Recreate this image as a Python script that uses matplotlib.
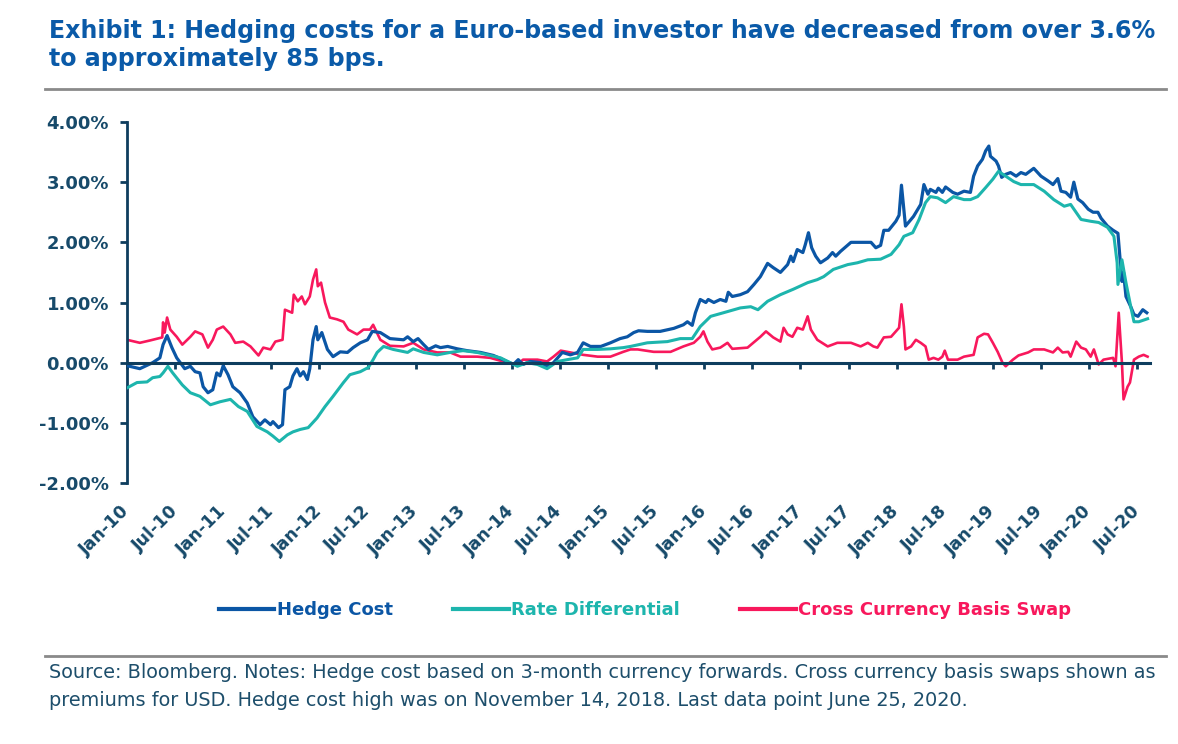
import matplotlib
matplotlib.use('Agg')
import matplotlib.pyplot as plt
from matplotlib.lines import Line2D

plt.rcParams['font.family'] = ['DejaVu Sans']

# ---------------- data (x = months since Jan 2010, y = percent) ----------------
hedge_m = [0, 1.6, 3.2, 4.1, 4.5, 5.0, 5.6, 6.2, 7.2, 7.9, 8.5, 9.1, 9.5, 10.1, 10.7, 11.2, 11.6, 12.0,
           12.6, 13.2, 14.1, 15.0, 15.7, 16.6, 17.2, 17.9, 18.2, 18.9, 19.4, 19.7, 20.3, 20.7, 21.2,
           21.6, 22.0, 22.5, 22.8, 23.2, 23.6, 23.8, 24.3, 25.0, 25.7, 26.6, 27.5, 28.2, 29.1, 30.0,
           30.6, 31.6, 32.8, 34.5, 35.0, 35.7, 36.3, 37.0, 37.6, 38.5, 39.1, 40.0, 41.2, 42.4, 44.1,
           45.7, 46.9, 48.2, 48.8, 49.4, 50.3, 51.6, 52.4, 53.2, 54.3, 55.3, 56.2, 56.9, 57.8, 59.1,
           60.3, 61.5, 62.4, 63.2, 63.8, 64.9, 66.5, 68.2, 69.4, 69.9, 70.5, 70.9, 71.5, 72.2, 72.5,
           73.2, 74.0, 74.7, 75.0, 75.5, 76.5, 77.4, 78.2, 79.0, 79.9, 80.6, 81.5, 82.4, 82.8, 83.1,
           83.6, 84.3, 84.6, 85.0, 85.4, 85.9, 86.5, 87.4, 88.0, 88.4, 89.0, 90.3, 91.5, 92.8, 93.4,
           94.0, 94.4, 95.0, 95.9, 96.3, 96.6, 96.9, 97.1, 98.1, 99.0, 99.4, 99.9, 100.2, 100.9,
           101.2, 101.7, 102.1, 103.0, 103.6, 104.4, 105.2, 105.6, 106.1, 106.7, 107.1, 107.5,
           107.7, 108.4, 108.7, 109.1, 109.6, 110.2, 110.9, 111.5, 112.1, 113.1, 114.0, 114.9,
           115.5, 116.1, 116.5, 117.1, 117.7, 118.1, 118.6, 119.2, 119.9, 120.5, 121.1, 121.5,
           122.3, 123.0, 123.6, 123.8, 124.1, 124.3, 124.6, 125.2, 125.6, 126.1, 126.7, 127.2]
hedge_v = [-0.05, -0.10, 0.00, 0.08, 0.30, 0.45, 0.25, 0.08, -0.10, -0.06, -0.15, -0.17, -0.40, -0.50,
           -0.45, -0.17, -0.22, -0.05, -0.20, -0.40, -0.50, -0.67, -0.90, -1.03, -0.95, -1.03, -0.98,
           -1.08, -1.03, -0.45, -0.40, -0.22, -0.10, -0.22, -0.15, -0.28, -0.10, 0.38, 0.60, 0.38,
           0.50, 0.22, 0.10, 0.18, 0.17, 0.25, 0.33, 0.38, 0.52, 0.50, 0.40, 0.38, 0.43, 0.35, 0.40,
           0.30, 0.22, 0.28, 0.25, 0.27, 0.23, 0.20, 0.17, 0.12, 0.05, -0.03, 0.05, -0.03, 0.02, 0.00,
           -0.06, 0.00, 0.17, 0.13, 0.17, 0.33, 0.27, 0.27, 0.33, 0.40, 0.43, 0.50, 0.53, 0.52, 0.52,
           0.57, 0.63, 0.68, 0.62, 0.83, 1.05, 1.00, 1.05, 1.00, 1.05, 1.02, 1.17, 1.10, 1.13, 1.18,
           1.30, 1.43, 1.65, 1.58, 1.50, 1.63, 1.77, 1.68, 1.88, 1.83, 1.96, 2.16, 1.91, 1.77, 1.66,
           1.74, 1.83, 1.77, 1.85, 2.00, 2.00, 2.00, 1.91, 1.95, 2.20, 2.20, 2.35, 2.45, 2.95, 2.55,
           2.27, 2.43, 2.63, 2.96, 2.80, 2.88, 2.83, 2.90, 2.83, 2.92, 2.83, 2.80, 2.85, 2.83, 3.10,
           3.27, 3.38, 3.52, 3.60, 3.43, 3.35, 3.27, 3.08, 3.13, 3.16, 3.10, 3.16, 3.13, 3.23, 3.10,
           3.02, 2.96, 3.06, 2.85, 2.83, 2.75, 3.00, 2.72, 2.66, 2.55, 2.50, 2.50, 2.40, 2.27, 2.20,
           2.15, 1.83, 1.35, 1.50, 1.10, 0.93, 0.80, 0.77, 0.88, 0.83]

rate_m = [0, 1.25, 2.5, 3.2, 4.1, 4.5, 5.1, 5.7, 6.9, 7.9, 9.1, 10.4, 11.6, 12.9, 13.9, 15.0, 16.2,
          17.5, 18.2, 19.0, 20.0, 20.7, 21.6, 22.6, 23.7, 24.7, 25.7, 27.0, 27.8, 29.1, 30.1, 30.7,
          31.2, 32.0, 33.2, 35.0, 35.7, 37.0, 38.7, 40.3, 41.9, 43.7, 45.3, 46.6, 47.8, 48.7, 49.9,
          51.2, 52.4, 53.7, 54.9, 56.2, 56.9, 58.7, 60.3, 61.9, 62.8, 64.9, 67.4, 69.0, 70.5, 71.5,
          72.8, 74.4, 76.5, 77.8, 78.7, 79.9, 81.5, 83.1, 84.9, 86.1, 86.9, 88.1, 89.9, 91.1, 92.4,
          94.0, 95.3, 96.3, 96.9, 98.0, 98.8, 99.6, 100.2, 101.1, 102.1, 103.1, 104.4, 105.2, 106.1,
          107.1, 108.0, 108.7, 109.6, 110.6, 111.5, 113.1, 114.4, 115.6, 116.9, 117.7, 119.0, 120.2,
          121.2, 122.3, 123.1, 123.5, 123.6, 124.1, 124.6, 125.2, 125.6, 126.2, 127.3]
rate_v = [-0.42, -0.33, -0.32, -0.25, -0.23, -0.17, -0.06, -0.17, -0.37, -0.50, -0.56, -0.70, -0.65,
          -0.61, -0.73, -0.81, -1.06, -1.15, -1.22, -1.31, -1.20, -1.15, -1.11, -1.08, -0.92, -0.73,
          -0.56, -0.33, -0.20, -0.15, -0.08, 0.05, 0.17, 0.27, 0.22, 0.17, 0.23, 0.17, 0.13, 0.17,
          0.20, 0.17, 0.12, 0.08, 0.00, -0.06, 0.00, -0.03, -0.10, 0.02, 0.05, 0.08, 0.22, 0.22,
          0.23, 0.25, 0.27, 0.33, 0.35, 0.40, 0.40, 0.60, 0.77, 0.83, 0.91, 0.93, 0.88, 1.02, 1.13,
          1.22, 1.33, 1.38, 1.43, 1.55, 1.63, 1.66, 1.71, 1.72, 1.80, 1.96, 2.10, 2.16, 2.38, 2.66,
          2.76, 2.74, 2.66, 2.76, 2.71, 2.71, 2.76, 2.91, 3.05, 3.18, 3.10, 3.01, 2.96, 2.96, 2.85,
          2.71, 2.60, 2.63, 2.38, 2.35, 2.33, 2.25, 2.10, 1.66, 1.30, 1.71, 1.33, 0.93, 0.68, 0.68,
          0.73]

basis_m = [0, 1.6, 2.9, 4.4, 4.5, 4.7, 5.0, 5.4, 6.2, 6.9, 7.9, 8.5, 9.4, 10.1, 10.7, 11.2, 12.0,
           12.9, 13.5, 14.5, 15.4, 16.4, 17.0, 17.9, 18.5, 19.4, 19.7, 20.6, 20.8, 21.3, 21.8, 22.2,
           22.8, 23.2, 23.6, 23.8, 24.2, 24.7, 25.3, 26.2, 27.0, 27.6, 28.7, 29.5, 30.3, 30.7, 31.6,
           32.8, 34.5, 35.7, 37.0, 38.7, 40.3, 41.6, 43.7, 45.3, 46.9, 48.7, 49.4, 51.2, 52.4, 53.2,
           54.1, 55.3, 56.9, 58.7, 60.3, 61.9, 62.8, 63.7, 65.7, 67.8, 69.4, 70.7, 71.5, 71.9, 72.4,
           73.0, 74.0, 74.9, 75.5, 77.4, 79.0, 79.7, 80.6, 81.5, 81.9, 82.4, 83.0, 83.6, 84.3, 84.9,
           85.3, 86.1, 87.4, 88.6, 90.3, 91.5, 92.4, 93.1, 93.6, 94.4, 95.3, 95.9, 96.3, 96.6, 96.9,
           97.1, 97.8, 98.4, 99.0, 99.6, 100.0, 100.6, 101.2, 101.7, 102.0, 102.4, 103.6, 104.4,
           105.6, 106.1, 106.9, 107.4, 108.0, 108.6, 109.2, 109.6, 110.5, 111.2, 112.4, 113.1,
           114.4, 115.5, 116.1, 116.7, 117.4, 117.7, 118.4, 119.0, 119.6, 120.2, 120.6, 121.2,
           121.8, 123.0, 123.3, 123.7, 124.1, 124.3, 124.8, 125.1, 125.6, 126.2, 126.8, 127.3]
basis_v = [0.38, 0.33, 0.37, 0.42, 0.67, 0.50, 0.75, 0.55, 0.43, 0.30, 0.43, 0.52, 0.47, 0.25, 0.38,
           0.55, 0.60, 0.47, 0.33, 0.35, 0.27, 0.12, 0.25, 0.22, 0.35, 0.38, 0.88, 0.83, 1.13, 1.02,
           1.10, 0.97, 1.10, 1.38, 1.55, 1.27, 1.33, 1.00, 0.75, 0.72, 0.68, 0.55, 0.47, 0.55, 0.55,
           0.63, 0.38, 0.28, 0.27, 0.33, 0.22, 0.17, 0.17, 0.10, 0.10, 0.08, 0.02, -0.03, 0.05, 0.05,
           0.02, 0.10, 0.20, 0.17, 0.13, 0.10, 0.10, 0.18, 0.22, 0.22, 0.18, 0.18, 0.27, 0.33, 0.43,
           0.52, 0.35, 0.22, 0.25, 0.33, 0.23, 0.25, 0.43, 0.52, 0.42, 0.35, 0.58, 0.47, 0.43, 0.58,
           0.55, 0.77, 0.55, 0.38, 0.27, 0.33, 0.33, 0.27, 0.33, 0.27, 0.25, 0.42, 0.43, 0.52, 0.58,
           0.97, 0.60, 0.22, 0.27, 0.38, 0.33, 0.27, 0.05, 0.08, 0.05, 0.10, 0.20, 0.05, 0.05, 0.10,
           0.13, 0.42, 0.48, 0.47, 0.33, 0.18, 0.00, -0.06, 0.05, 0.12, 0.17, 0.22, 0.22, 0.17, 0.25,
           0.17, 0.18, 0.10, 0.35, 0.25, 0.22, 0.10, 0.22, -0.03, 0.05, 0.08, -0.06, 0.83, 0.00,
           -0.61, -0.40, -0.33, 0.05, 0.10, 0.13, 0.10]

series_names = ['Hedge Cost', 'Rate Differential', 'Cross Currency Basis Swap']

tick_months = list(range(0, 127, 6))
tick_labels = ['Jan-10', 'Jul-10', 'Jan-11', 'Jul-11', 'Jan-12', 'Jul-12', 'Jan-13', 'Jul-13',
               'Jan-14', 'Jul-14', 'Jan-15', 'Jul-15', 'Jan-16', 'Jul-16', 'Jan-17', 'Jul-17',
               'Jan-18', 'Jul-18', 'Jan-19', 'Jul-19', 'Jan-20', 'Jul-20']
ytick_vals = [-2, -1, 0, 1, 2, 3, 4]
ytick_labels = ['-2.00%', '-1.00%', '0.00%', '1.00%', '2.00%', '3.00%', '4.00%']

title_lines = ['Exhibit 1: Hedging costs for a Euro-based investor have decreased from over 3.6%',
               'to approximately 85 bps.']
source_lines = ['Source: Bloomberg. Notes: Hedge cost based on 3-month currency forwards. '
                'Cross currency basis swaps shown as',
                'premiums for USD. Hedge cost high was on November 14, 2018. Last data point June 25, 2020.']

# ---------------- styling ----------------
C_HEDGE = '#0b56a5'
C_RATE = '#1db5ad'
C_BASIS = '#f8185c'
C_AXIS = '#0e3d5e'
C_TICK = '#174a6a'
C_TITLE = '#0a5aa8'
C_SRC = '#1d4e6b'

W, H = 1178, 744
fig = plt.figure(figsize=(W / 100, H / 100), dpi=100)
ax = fig.add_axes([127 / W, 1 - 483 / H, (1150 - 127) / W, (483 - 122) / H])

l_basis, = ax.plot(basis_m, basis_v, color=C_BASIS, lw=1.9, solid_joinstyle='round', zorder=2)
l_hedge, = ax.plot(hedge_m, hedge_v, color=C_HEDGE, lw=2.3, solid_joinstyle='round', zorder=3)
l_rate, = ax.plot(rate_m, rate_v, color=C_RATE, lw=2.2, solid_joinstyle='round', zorder=4)

ax.set_xlim(0, 127.6)
ax.set_ylim(-2, 4)

for s in ['top', 'right']:
    ax.spines[s].set_visible(False)
ax.spines['left'].set_color(C_AXIS)
ax.spines['left'].set_linewidth(2.0)
ax.spines['bottom'].set_position(('data', 0))
ax.spines['bottom'].set_color(C_AXIS)
ax.spines['bottom'].set_linewidth(2.2)
ax.spines['bottom'].set_zorder(5)

ax.set_yticks(ytick_vals)
ax.set_yticklabels(ytick_labels)
ax.tick_params(axis='y', direction='out', length=5, width=2, color=C_AXIS, pad=8,
               labelsize=13, labelcolor=C_TICK)
for t in ax.get_yticklabels():
    t.set_fontweight('bold')

ax.set_xticks(tick_months)
ax.set_xticklabels(tick_labels, rotation=45, ha='right', va='center', rotation_mode='anchor')
ax.tick_params(axis='x', direction='out', length=4, width=2, color=C_AXIS, pad=101,
               labelsize=12.5, labelcolor=C_TICK)
for t in ax.get_xticklabels():
    t.set_fontweight('bold')

# title
fig.text(49 / W, 1 - 38 / H, title_lines[0], fontsize=17.1, fontweight='bold', color=C_TITLE,
         ha='left', va='baseline')
fig.text(49 / W, 1 - 66 / H, title_lines[1], fontsize=17.1, fontweight='bold', color=C_TITLE,
         ha='left', va='baseline')

# rules
fig.add_artist(Line2D([45 / W, 1166 / W], [1 - 89 / H, 1 - 89 / H], color='#8a8a8a', lw=2.0))
fig.add_artist(Line2D([45 / W, 1166 / W], [1 - 656 / H, 1 - 656 / H], color='#8a8a8a', lw=2.0))

# legend
leg = fig.legend([l_hedge, l_rate, l_basis], series_names, ncol=3, loc='center',
                 bbox_to_anchor=(645 / W, 1 - 610 / H), frameon=False,
                 prop={'weight': 'bold', 'size': 13}, handlelength=3.1, handletextpad=0.15,
                 columnspacing=3.3)
for t, c in zip(leg.get_texts(), [C_HEDGE, C_RATE, C_BASIS]):
    t.set_color(c)
for h in leg.get_lines():
    h.set_linewidth(3.0)

# source
fig.text(49 / W, 1 - 678 / H, source_lines[0], fontsize=13.9, color=C_SRC, ha='left', va='baseline')
fig.text(49 / W, 1 - 706 / H, source_lines[1], fontsize=13.9, color=C_SRC, ha='left', va='baseline')

fig.savefig('out.png', dpi=100)
